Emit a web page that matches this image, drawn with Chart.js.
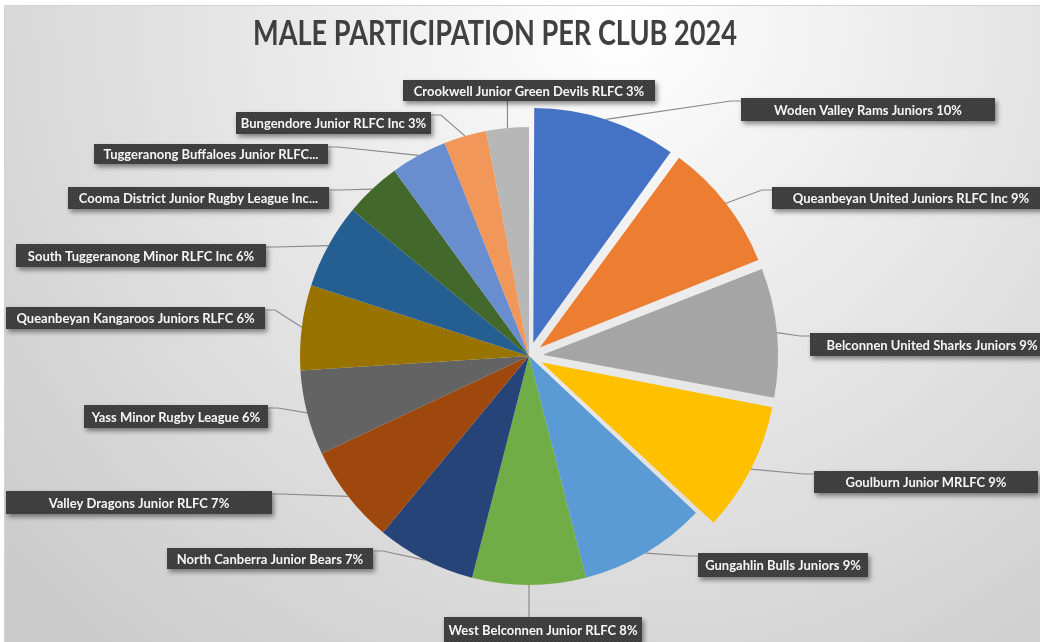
<!DOCTYPE html>
<html><head><meta charset="utf-8">
<script src="https://cdn.jsdelivr.net/npm/chart.js@4.4.1/dist/chart.umd.min.js"></script>
<style>html,body{margin:0;padding:0;background:#fff;overflow:hidden}canvas{display:block}</style>
</head><body>
<canvas id="c" width="1040" height="642"></canvas>
<script>
// ---- data ----
const chartTitle = 'MALE PARTICIPATION PER CLUB 2024';
const categories = [
  'Woden Valley Rams Juniors',
  'Queanbeyan United Juniors RLFC Inc',
  'Belconnen United Sharks Juniors',
  'Goulburn Junior MRLFC',
  'Gungahlin Bulls Juniors',
  'West Belconnen Junior RLFC',
  'North Canberra Junior Bears',
  'Valley Dragons Junior RLFC',
  'Yass Minor Rugby League',
  'Queanbeyan Kangaroos Juniors RLFC',
  'South Tuggeranong Minor RLFC Inc',
  'Cooma District Junior Rugby League Inc...',
  'Tuggeranong Buffaloes Junior RLFC...',
  'Bungendore Junior RLFC Inc',
  'Crookwell Junior Green Devils RLFC'
];
const shares = [10, 9, 9, 9, 9, 8, 7, 7, 6, 6, 6, 4, 4, 3, 3];

// ---- styles ----
const sliceColors = ['#4472C4','#ED7D31','#A5A5A5','#FFC000','#5B9BD5','#70AD47','#264478',
  '#9E480E','#636363','#997300','#255E91','#43682B','#698ED0','#F1975A','#B7B7B7'];
const explode = [56, 55, 55, 55, 0, 0, 0, 0, 0, 0, 0, 0, 0, 0, 0];
// label box layout: x, y, w, h, side of the pie it sits on
const labelBoxes = [
  [741, 98, 254, 23, 'R'],
  [772, 187, 278, 22, 'R'],
  [810, 333, 244, 23, 'R'],
  [814, 471, 224, 22, 'R'],
  [698, 553, 170, 24, 'R'],
  [444, 617, 198, 25, 'B'],
  [167, 548, 206, 21, 'L'],
  [6, 491, 266, 23, 'L'],
  [84, 405, 184, 23, 'L'],
  [6, 307, 259, 22, 'L'],
  [16, 244, 250, 23, 'L'],
  [68, 187, 261, 22, 'L'],
  [94, 144, 234, 20, 'L'],
  [236, 112, 195, 22, 'L'],
  [403, 80, 252, 21, 'T']
];

function labelText(i) {
  const n = categories[i];
  return n.endsWith('...') ? n : n + ' ' + shares[i] + '%';
}

// dotted dark pattern for label boxes
const tile = document.createElement('canvas');
tile.width = 4; tile.height = 4;
(function(){
  const t = tile.getContext('2d');
  t.fillStyle = '#3d3d3d'; t.fillRect(0,0,4,4);
  t.fillStyle = '#4f4f4f'; t.fillRect(1,1,1,1); t.fillRect(3,3,1,1);
})();

const bgPlugin = {
  id: 'bg',
  beforeDraw(chart) {
    const ctx = chart.ctx;
    ctx.save();
    ctx.fillStyle = '#ffffff';
    ctx.fillRect(0, 0, chart.width, chart.height);
    const g = ctx.createRadialGradient(620, 20, 0, 620, 20, 820);
    g.addColorStop(0, '#ffffff');
    g.addColorStop(0.35, '#ececec');
    g.addColorStop(1, '#cbcbcb');
    ctx.fillStyle = g;
    ctx.fillRect(4, 5, chart.width - 4, chart.height - 5);
    ctx.strokeStyle = '#d4d4d4';
    ctx.lineWidth = 1;
    ctx.beginPath();
    ctx.moveTo(4.5, chart.height); ctx.lineTo(4.5, 5.5); ctx.lineTo(chart.width, 5.5);
    ctx.stroke();
    ctx.restore();
  }
};

const labelPlugin = {
  id: 'labels',
  afterDatasetsDraw(chart) {
    const ctx = chart.ctx;
    const meta = chart.getDatasetMeta(0);
    ctx.save();
    // leader lines
    ctx.strokeStyle = '#8a8a8a';
    ctx.lineWidth = 1.2;
    meta.data.forEach((arc, i) => {
      const p = arc.getProps(['x','y','startAngle','endAngle','outerRadius'], true);
      const off = (arc.options.offset || 0) / 4;
      const circ = p.endAngle - p.startAngle;
      const fix = 1 - Math.sin(Math.min(Math.PI, circ));
      const tr = off + off * fix;
      const half = (p.startAngle + p.endAngle) / 2;
      const ax = p.x + Math.cos(half) * (tr + p.outerRadius);
      const ay = p.y + Math.sin(half) * (tr + p.outerRadius);
      const [bx, by, bw, bh, side] = labelBoxes[i];
      ctx.beginPath();
      ctx.moveTo(ax, ay);
      if (side === 'R') {
        ctx.lineTo(bx - 10, by + 3); ctx.lineTo(bx, by + 3);
      } else if (side === 'L') {
        ctx.lineTo(bx + bw + 10, by + 3); ctx.lineTo(bx + bw, by + 3);
      } else if (side === 'B') {
        ctx.lineTo(ax, by);
      } else {
        ctx.lineTo(ax, by + bh);
      }
      ctx.stroke();
    });
    // boxes
    const pat = ctx.createPattern(tile, 'repeat');
    meta.data.forEach((arc, i) => {
      const [bx, by, bw, bh] = labelBoxes[i];
      ctx.save();
      ctx.shadowColor = 'rgba(0,0,0,0.45)';
      ctx.shadowBlur = 5;
      ctx.shadowOffsetX = 2;
      ctx.shadowOffsetY = 3;
      ctx.fillStyle = pat;
      ctx.fillRect(bx, by, bw, bh);
      ctx.restore();
      ctx.fillStyle = '#f6f6f6';
      ctx.font = 'bold 13px Lato, "Open Sans", sans-serif';
      ctx.textAlign = 'center';
      ctx.textBaseline = 'middle';
      ctx.fillText(labelText(i), bx + bw / 2, by + bh / 2 + 1);
    });
    // title (horizontally condensed to the reference's width)
    ctx.fillStyle = '#404040';
    ctx.font = 'bold 35px Lato, "Open Sans", sans-serif';
    const w = ctx.measureText(chartTitle).width;
    const sx = 484 / w;
    ctx.textAlign = 'center';
    ctx.textBaseline = 'alphabetic';
    ctx.translate(495, 45);
    ctx.scale(sx, 1);
    ctx.fillText(chartTitle, 0, 0);
    ctx.restore();
  }
};

new Chart(document.getElementById('c'), {
  type: 'pie',
  data: {
    labels: categories,
    datasets: [{
      data: shares,
      backgroundColor: sliceColors,
      offset: explode,
      borderWidth: 0,
      radius: 229
    }]
  },
  options: {
    responsive: false,
    animation: false,
    radius: 229,
    layout: { padding: { left: 18, right: 0, top: 70, bottom: 0 } },
    plugins: { legend: { display: false }, tooltip: { enabled: false }, title: { display: false } }
  },
  plugins: [bgPlugin, labelPlugin]
});
</script>
</body></html>
